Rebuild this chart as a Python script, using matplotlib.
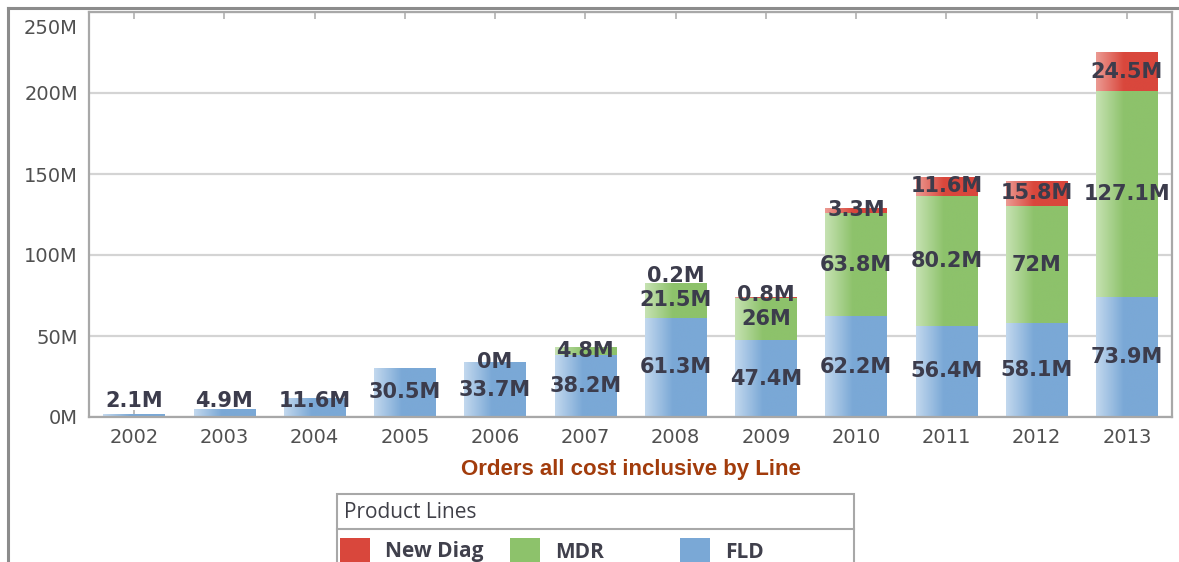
import numpy as np
import matplotlib
matplotlib.use("Agg")
import matplotlib.pyplot as plt
from matplotlib.colors import to_rgb
from matplotlib.patches import Rectangle
from matplotlib.lines import Line2D
from matplotlib.transforms import ScaledTranslation

# ---------------- data ----------------
years = ["2002", "2003", "2004", "2005", "2006", "2007",
         "2008", "2009", "2010", "2011", "2012", "2013"]
fld = [2.1, 4.9, 11.6, 30.5, 33.7, 38.2, 61.3, 47.4, 62.2, 56.4, 58.1, 73.9]
mdr = [None, None, None, None, 0, 4.8, 21.5, 26, 63.8, 80.2, 72, 127.1]
new_diag = [None, None, None, None, None, None, 0.2, 0.8, 3.3, 11.6, 15.8, 24.5]
series_names = ["FLD", "MDR", "New Diag"]
y_ticks = [0, 50, 100, 150, 200, 250]
y_tick_labels = ["0M", "50M", "100M", "150M", "200M", "250M"]
title = "Orders all cost inclusive by Line"
legend_title = "Product Lines"

# ---------------- style ----------------
base_cols = {"FLD": "#7aa8d6", "MDR": "#8dc26b", "New Diag": "#d9473c"}
light_cols = {"FLD": "#c2d8ee", "MDR": "#c6e2b2", "New Diag": "#eb9a92"}
label_col = "#3c3c4c"
W, H = 1179, 562

fig = plt.figure(figsize=(W / 100, H / 100), dpi=100)
fig.patch.set_facecolor("white")
ax = fig.add_axes([89 / W, 1 - 417 / H, (1172 - 89) / W, (417 - 12) / H])

x = np.arange(len(years))
bw = 0.68


def vals(lst):
    return np.array([0 if v is None else v for v in lst], dtype=float)


stack = [("FLD", fld), ("MDR", mdr), ("New Diag", new_diag)]
bottom = np.zeros(len(years))
label_prev = np.full(len(years), -1e9)
for name, raw in stack:
    v = vals(raw)
    bars = ax.bar(x, v, bw, bottom=bottom, color=base_cols[name],
                  linewidth=0, zorder=2)
    # horizontal gradient fill clipped to each bar
    c0 = np.array(to_rgb(light_cols[name]))
    c1 = np.array(to_rgb(base_cols[name]))
    t = np.clip(np.linspace(0, 1, 64) / 0.45, 0, 1)
    grad = (c0[None, :] * (1 - t[:, None]) + c1[None, :] * t[:, None])[None, :, :]
    for rect in bars:
        if rect.get_height() <= 0:
            continue
        x0, y0 = rect.get_x(), rect.get_y()
        im = ax.imshow(grad, extent=(x0, x0 + rect.get_width(), y0, y0 + rect.get_height()),
                       aspect="auto", interpolation="bilinear", zorder=2.5)
        im.set_clip_path(rect)
    # value labels
    for i, r in enumerate(raw):
        if r is None:
            continue
        yc = bottom[i] + v[i] / 2
        yc = max(yc, 10.0, label_prev[i] + 15.0)
        label_prev[i] = yc
        ax.text(x[i], yc, f"{r:g}M", ha="center", va="center",
                fontsize=15, fontweight="bold", color=label_col,
                family="DejaVu Sans", zorder=5)
    bottom = bottom + v

ax.set_xlim(-0.5, len(years) - 0.5)
ax.set_ylim(0, 250)
ax.set_yticks(y_ticks)
ax.set_yticklabels(y_tick_labels)
ax.set_xticks(x)
ax.set_xticklabels(years)
ax.tick_params(axis="y", length=0, pad=8, labelsize=14, labelcolor="#505050")
ax.tick_params(axis="x", length=5, width=1.2, color="#b0b0b0", pad=8,
               labelsize=14, labelcolor="#505050", top=True, direction="in")
ax.grid(axis="y", color="#d4d4d4", linewidth=1.6, zorder=0)
ax.set_axisbelow(True)
for s in ax.spines.values():
    s.set_color("#a8a8a8")
    s.set_linewidth(1.6)

# keep the top tick label inside the figure, as in the original
top_lbl = ax.get_yticklabels()[-1]
top_lbl.set_transform(top_lbl.get_transform() + ScaledTranslation(0, -15 / 100, fig.dpi_scale_trans))

# title below the axis
fig.text((89 + 1172) / 2 / W, 1 - 470 / H, title, ha="center", va="center",
         fontsize=16, fontweight="bold", color="#a23c0c", family="Liberation Sans")

# outer frame (left and top)
fig.add_artist(Line2D([8 / W, 8 / W], [0, 1 - 8 / H], color="#8c8c8c", lw=2.2))
fig.add_artist(Line2D([8 / W, 1], [1 - 8 / H, 1 - 8 / H], color="#8c8c8c", lw=2.2))

# legend box
lx0, lx1, ly0 = 337, 854, 494
fig.add_artist(Rectangle((lx0 / W, -0.05), (lx1 - lx0) / W, (1 - ly0 / H) + 0.05,
                         transform=fig.transFigure, facecolor="white",
                         edgecolor="#a8a8a8", lw=1.5))
fig.add_artist(Line2D([lx0 / W, lx1 / W], [1 - 529 / H, 1 - 529 / H],
                      color="#a8a8a8", lw=1.5))
fig.text(344 / W, 1 - 513 / H, legend_title, ha="left", va="center",
         fontsize=15, color="#404048", family="Open Sans")
legend_order = ["New Diag", "MDR", "FLD"]
for k, name in enumerate(legend_order):
    sx = 340 + k * 170
    fig.add_artist(Rectangle((sx / W, 1 - 568 / H), 30 / W, 30 / H,
                             transform=fig.transFigure, facecolor=base_cols[name],
                             edgecolor="none"))
    fig.text((sx + 45) / W, 1 - 552 / H, name, ha="left", va="center",
             fontsize=15, fontweight="bold", color="#40404c", family="Open Sans")

fig.savefig("out.png", dpi=100)
